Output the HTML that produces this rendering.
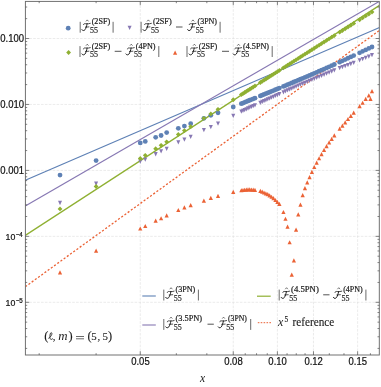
<!DOCTYPE html>
<html><head><meta charset="utf-8"><title>plot</title>
<style>html,body{margin:0;padding:0;background:#fff;}svg{display:block}</style></head>
<body><svg width="381" height="387" viewBox="0 0 381 387">
<rect width="381" height="387" fill="#ffffff"/><defs><mask id="mk" maskUnits="userSpaceOnUse" x="0" y="0" width="381" height="387"><rect width="381" height="387" fill="#fff"/></mask></defs><g mask="url(#mk)">
<line x1="140.25" y1="1.4" x2="140.25" y2="355.0" stroke="#dadada" stroke-width="0.55" stroke-dasharray="2.6 1.3"/>
<line x1="233.25" y1="1.4" x2="233.25" y2="355.0" stroke="#dadada" stroke-width="0.55" stroke-dasharray="2.6 1.3"/>
<line x1="277.40" y1="1.4" x2="277.40" y2="355.0" stroke="#dadada" stroke-width="0.55" stroke-dasharray="2.6 1.3"/>
<line x1="313.47" y1="1.4" x2="313.47" y2="355.0" stroke="#dadada" stroke-width="0.55" stroke-dasharray="2.6 1.3"/>
<line x1="357.63" y1="1.4" x2="357.63" y2="355.0" stroke="#dadada" stroke-width="0.55" stroke-dasharray="2.6 1.3"/>
<line x1="25.4" y1="38.50" x2="379.3" y2="38.50" stroke="#dadada" stroke-width="0.55" stroke-dasharray="2.6 1.3"/>
<line x1="25.4" y1="104.45" x2="379.3" y2="104.45" stroke="#dadada" stroke-width="0.55" stroke-dasharray="2.6 1.3"/>
<line x1="25.4" y1="170.40" x2="379.3" y2="170.40" stroke="#dadada" stroke-width="0.55" stroke-dasharray="2.6 1.3"/>
<line x1="25.4" y1="236.35" x2="379.3" y2="236.35" stroke="#dadada" stroke-width="0.55" stroke-dasharray="2.6 1.3"/>
<line x1="25.4" y1="302.30" x2="379.3" y2="302.30" stroke="#dadada" stroke-width="0.55" stroke-dasharray="2.6 1.3"/>
<clipPath id="c"><rect x="25.4" y="1.4" width="353.90000000000003" height="353.6"/></clipPath>
<g clip-path="url(#c)">
<line x1="25.3" y1="180.30" x2="379.5" y2="27.50" stroke="#5E81B5" stroke-width="1.2"/>
<line x1="25.3" y1="205.90" x2="379.5" y2="1.30" stroke="#8778B3" stroke-width="1.2"/>
<line x1="25.3" y1="235.40" x2="379.5" y2="5.40" stroke="#8FB032" stroke-width="1.3"/>
<line x1="25.3" y1="286.74" x2="379.5" y2="30.38" stroke="#EB6235" stroke-width="1.3" stroke-dasharray="2.1 1.85"/>
<circle cx="60.02" cy="175.05" r="2.4" fill="#5E81B5"/>
<circle cx="96.10" cy="160.60" r="2.4" fill="#5E81B5"/>
<circle cx="140.25" cy="142.97" r="2.4" fill="#5E81B5"/>
<circle cx="145.26" cy="141.44" r="2.4" fill="#5E81B5"/>
<circle cx="155.68" cy="137.35" r="2.4" fill="#5E81B5"/>
<circle cx="161.10" cy="135.49" r="2.4" fill="#5E81B5"/>
<circle cx="166.67" cy="132.59" r="2.4" fill="#5E81B5"/>
<circle cx="178.31" cy="128.29" r="2.4" fill="#5E81B5"/>
<circle cx="184.40" cy="126.07" r="2.4" fill="#5E81B5"/>
<circle cx="190.68" cy="123.68" r="2.4" fill="#5E81B5"/>
<circle cx="203.88" cy="118.28" r="2.4" fill="#5E81B5"/>
<circle cx="210.82" cy="115.29" r="2.4" fill="#5E81B5"/>
<circle cx="218.02" cy="112.85" r="2.4" fill="#5E81B5"/>
<circle cx="233.25" cy="107.02" r="2.4" fill="#5E81B5"/>
<circle cx="241.33" cy="103.72" r="2.4" fill="#5E81B5"/>
<circle cx="242.98" cy="103.04" r="2.4" fill="#5E81B5"/>
<circle cx="244.65" cy="102.36" r="2.4" fill="#5E81B5"/>
<circle cx="246.33" cy="101.67" r="2.4" fill="#5E81B5"/>
<circle cx="248.03" cy="100.97" r="2.4" fill="#5E81B5"/>
<circle cx="249.75" cy="100.27" r="2.4" fill="#5E81B5"/>
<circle cx="251.47" cy="99.57" r="2.4" fill="#5E81B5"/>
<circle cx="253.22" cy="98.85" r="2.4" fill="#5E81B5"/>
<circle cx="254.98" cy="98.13" r="2.4" fill="#5E81B5"/>
<circle cx="260.35" cy="95.93" r="2.4" fill="#5E81B5"/>
<circle cx="262.17" cy="95.19" r="2.4" fill="#5E81B5"/>
<circle cx="264.01" cy="94.44" r="2.4" fill="#5E81B5"/>
<circle cx="265.87" cy="93.68" r="2.4" fill="#5E81B5"/>
<circle cx="267.75" cy="92.91" r="2.4" fill="#5E81B5"/>
<circle cx="269.64" cy="92.13" r="2.4" fill="#5E81B5"/>
<circle cx="271.55" cy="91.35" r="2.4" fill="#5E81B5"/>
<circle cx="273.48" cy="90.56" r="2.4" fill="#5E81B5"/>
<circle cx="275.43" cy="89.76" r="2.4" fill="#5E81B5"/>
<circle cx="277.40" cy="88.96" r="2.4" fill="#5E81B5"/>
<circle cx="279.39" cy="88.12" r="2.4" fill="#5E81B5"/>
<circle cx="283.43" cy="86.42" r="2.4" fill="#5E81B5"/>
<circle cx="285.48" cy="85.56" r="2.4" fill="#5E81B5"/>
<circle cx="287.55" cy="84.69" r="2.4" fill="#5E81B5"/>
<circle cx="289.64" cy="83.81" r="2.4" fill="#5E81B5"/>
<circle cx="291.76" cy="82.92" r="2.4" fill="#5E81B5"/>
<circle cx="293.90" cy="82.02" r="2.4" fill="#5E81B5"/>
<circle cx="296.06" cy="81.11" r="2.4" fill="#5E81B5"/>
<circle cx="298.25" cy="80.19" r="2.4" fill="#5E81B5"/>
<circle cx="300.46" cy="79.26" r="2.4" fill="#5E81B5"/>
<circle cx="302.69" cy="78.32" r="2.4" fill="#5E81B5"/>
<circle cx="304.96" cy="77.37" r="2.4" fill="#5E81B5"/>
<circle cx="307.24" cy="76.41" r="2.4" fill="#5E81B5"/>
<circle cx="309.56" cy="75.42" r="2.4" fill="#5E81B5"/>
<circle cx="311.90" cy="74.39" r="2.4" fill="#5E81B5"/>
<circle cx="314.27" cy="73.35" r="2.4" fill="#5E81B5"/>
<circle cx="316.67" cy="72.29" r="2.4" fill="#5E81B5"/>
<circle cx="319.09" cy="71.22" r="2.4" fill="#5E81B5"/>
<circle cx="321.55" cy="70.13" r="2.4" fill="#5E81B5"/>
<circle cx="324.04" cy="69.04" r="2.4" fill="#5E81B5"/>
<circle cx="326.56" cy="67.92" r="2.4" fill="#5E81B5"/>
<circle cx="329.11" cy="66.80" r="2.4" fill="#5E81B5"/>
<circle cx="331.70" cy="65.66" r="2.4" fill="#5E81B5"/>
<circle cx="334.32" cy="64.50" r="2.4" fill="#5E81B5"/>
<circle cx="339.67" cy="62.15" r="2.4" fill="#5E81B5"/>
<circle cx="342.40" cy="60.87" r="2.4" fill="#5E81B5"/>
<circle cx="345.17" cy="59.58" r="2.4" fill="#5E81B5"/>
<circle cx="347.97" cy="58.26" r="2.4" fill="#5E81B5"/>
<circle cx="350.82" cy="56.92" r="2.4" fill="#5E81B5"/>
<circle cx="353.71" cy="55.57" r="2.4" fill="#5E81B5"/>
<circle cx="359.62" cy="52.79" r="2.4" fill="#5E81B5"/>
<circle cx="362.64" cy="51.37" r="2.4" fill="#5E81B5"/>
<circle cx="365.70" cy="49.93" r="2.4" fill="#5E81B5"/>
<circle cx="368.82" cy="48.47" r="2.4" fill="#5E81B5"/>
<circle cx="371.99" cy="46.98" r="2.4" fill="#5E81B5"/>
<path d="M58.02,200.86L62.02,200.86L60.02,205.16Z" fill="#8778B3"/>
<path d="M94.10,181.60L98.10,181.60L96.10,185.90Z" fill="#8778B3"/>
<path d="M138.25,159.39L142.25,159.39L140.25,163.69Z" fill="#8778B3"/>
<path d="M143.26,157.51L147.26,157.51L145.26,161.81Z" fill="#8778B3"/>
<path d="M153.68,152.11L157.68,152.11L155.68,156.41Z" fill="#8778B3"/>
<path d="M159.10,149.16L163.10,149.16L161.10,153.46Z" fill="#8778B3"/>
<path d="M164.67,146.64L168.67,146.64L166.67,150.94Z" fill="#8778B3"/>
<path d="M176.31,140.30L180.31,140.30L178.31,144.60Z" fill="#8778B3"/>
<path d="M182.40,137.48L186.40,137.48L184.40,141.78Z" fill="#8778B3"/>
<path d="M188.68,134.65L192.68,134.65L190.68,138.95Z" fill="#8778B3"/>
<path d="M201.88,127.93L205.88,127.93L203.88,132.23Z" fill="#8778B3"/>
<path d="M208.82,124.94L212.82,124.94L210.82,129.24Z" fill="#8778B3"/>
<path d="M216.02,121.49L220.02,121.49L218.02,125.79Z" fill="#8778B3"/>
<path d="M231.25,113.68L235.25,113.68L233.25,117.98Z" fill="#8778B3"/>
<path d="M239.33,109.44L243.33,109.44L241.33,113.74Z" fill="#8778B3"/>
<path d="M240.98,108.67L244.98,108.67L242.98,112.97Z" fill="#8778B3"/>
<path d="M242.65,107.91L246.65,107.91L244.65,112.21Z" fill="#8778B3"/>
<path d="M244.33,107.13L248.33,107.13L246.33,111.43Z" fill="#8778B3"/>
<path d="M246.03,106.35L250.03,106.35L248.03,110.65Z" fill="#8778B3"/>
<path d="M247.75,105.57L251.75,105.57L249.75,109.87Z" fill="#8778B3"/>
<path d="M249.47,104.78L253.47,104.78L251.47,109.08Z" fill="#8778B3"/>
<path d="M251.22,103.98L255.22,103.98L253.22,108.28Z" fill="#8778B3"/>
<path d="M252.98,103.17L256.98,103.17L254.98,107.47Z" fill="#8778B3"/>
<path d="M258.35,100.71L262.35,100.71L260.35,105.01Z" fill="#8778B3"/>
<path d="M260.17,99.87L264.17,99.87L262.17,104.17Z" fill="#8778B3"/>
<path d="M262.01,99.03L266.01,99.03L264.01,103.33Z" fill="#8778B3"/>
<path d="M263.87,98.18L267.87,98.18L265.87,102.48Z" fill="#8778B3"/>
<path d="M265.75,97.32L269.75,97.32L267.75,101.62Z" fill="#8778B3"/>
<path d="M267.64,96.45L271.64,96.45L269.64,100.75Z" fill="#8778B3"/>
<path d="M269.55,95.57L273.55,95.57L271.55,99.87Z" fill="#8778B3"/>
<path d="M271.48,94.69L275.48,94.69L273.48,98.99Z" fill="#8778B3"/>
<path d="M273.43,93.79L277.43,93.79L275.43,98.09Z" fill="#8778B3"/>
<path d="M275.40,92.89L279.40,92.89L277.40,97.19Z" fill="#8778B3"/>
<path d="M277.39,91.98L281.39,91.98L279.39,96.28Z" fill="#8778B3"/>
<path d="M281.43,90.14L285.43,90.14L283.43,94.44Z" fill="#8778B3"/>
<path d="M283.48,89.22L287.48,89.22L285.48,93.52Z" fill="#8778B3"/>
<path d="M285.55,88.30L289.55,88.30L287.55,92.60Z" fill="#8778B3"/>
<path d="M287.64,87.37L291.64,87.37L289.64,91.67Z" fill="#8778B3"/>
<path d="M289.76,86.42L293.76,86.42L291.76,90.72Z" fill="#8778B3"/>
<path d="M291.90,85.47L295.90,85.47L293.90,89.77Z" fill="#8778B3"/>
<path d="M294.06,84.51L298.06,84.51L296.06,88.81Z" fill="#8778B3"/>
<path d="M296.25,83.53L300.25,83.53L298.25,87.83Z" fill="#8778B3"/>
<path d="M298.46,82.56L302.46,82.56L300.46,86.86Z" fill="#8778B3"/>
<path d="M300.69,81.61L304.69,81.61L302.69,85.91Z" fill="#8778B3"/>
<path d="M302.96,80.66L306.96,80.66L304.96,84.96Z" fill="#8778B3"/>
<path d="M305.24,79.69L309.24,79.69L307.24,83.99Z" fill="#8778B3"/>
<path d="M307.56,78.71L311.56,78.71L309.56,83.01Z" fill="#8778B3"/>
<path d="M309.90,77.72L313.90,77.72L311.90,82.02Z" fill="#8778B3"/>
<path d="M312.27,76.72L316.27,76.72L314.27,81.02Z" fill="#8778B3"/>
<path d="M314.67,75.71L318.67,75.71L316.67,80.01Z" fill="#8778B3"/>
<path d="M317.09,74.68L321.09,74.68L319.09,78.98Z" fill="#8778B3"/>
<path d="M319.55,73.64L323.55,73.64L321.55,77.94Z" fill="#8778B3"/>
<path d="M322.04,72.59L326.04,72.59L324.04,76.89Z" fill="#8778B3"/>
<path d="M324.56,71.53L328.56,71.53L326.56,75.83Z" fill="#8778B3"/>
<path d="M327.11,70.45L331.11,70.45L329.11,74.75Z" fill="#8778B3"/>
<path d="M329.70,69.36L333.70,69.36L331.70,73.66Z" fill="#8778B3"/>
<path d="M332.32,68.25L336.32,68.25L334.32,72.55Z" fill="#8778B3"/>
<path d="M337.67,65.99L341.67,65.99L339.67,70.29Z" fill="#8778B3"/>
<path d="M340.40,64.96L344.40,64.96L342.40,69.26Z" fill="#8778B3"/>
<path d="M343.17,63.94L347.17,63.94L345.17,68.24Z" fill="#8778B3"/>
<path d="M345.97,62.91L349.97,62.91L347.97,67.21Z" fill="#8778B3"/>
<path d="M348.82,61.85L352.82,61.85L350.82,66.15Z" fill="#8778B3"/>
<path d="M351.71,60.75L355.71,60.75L353.71,65.05Z" fill="#8778B3"/>
<path d="M357.62,58.27L361.62,58.27L359.62,62.57Z" fill="#8778B3"/>
<path d="M360.64,57.00L364.64,57.00L362.64,61.30Z" fill="#8778B3"/>
<path d="M363.70,55.70L367.70,55.70L365.70,60.00Z" fill="#8778B3"/>
<path d="M366.82,54.39L370.82,54.39L368.82,58.69Z" fill="#8778B3"/>
<path d="M369.99,53.07L373.99,53.07L371.99,57.37Z" fill="#8778B3"/>
<path d="M57.62,208.95L60.02,206.55L62.42,208.95L60.02,211.35Z" fill="#8FB032"/>
<path d="M93.70,186.48L96.10,184.08L98.50,186.48L96.10,188.88Z" fill="#8FB032"/>
<path d="M137.85,158.52L140.25,156.12L142.65,158.52L140.25,160.92Z" fill="#8FB032"/>
<path d="M142.86,155.35L145.26,152.95L147.66,155.35L145.26,157.75Z" fill="#8FB032"/>
<path d="M153.28,148.76L155.68,146.36L158.08,148.76L155.68,151.16Z" fill="#8FB032"/>
<path d="M158.70,145.34L161.10,142.94L163.50,145.34L161.10,147.74Z" fill="#8FB032"/>
<path d="M164.27,141.81L166.67,139.41L169.07,141.81L166.67,144.21Z" fill="#8FB032"/>
<path d="M175.91,134.46L178.31,132.06L180.71,134.46L178.31,136.86Z" fill="#8FB032"/>
<path d="M182.00,130.61L184.40,128.21L186.80,130.61L184.40,133.01Z" fill="#8FB032"/>
<path d="M188.28,126.64L190.68,124.24L193.08,126.64L190.68,129.04Z" fill="#8FB032"/>
<path d="M201.48,118.30L203.88,115.90L206.28,118.30L203.88,120.70Z" fill="#8FB032"/>
<path d="M208.42,113.91L210.82,111.51L213.22,113.91L210.82,116.31Z" fill="#8FB032"/>
<path d="M215.62,109.36L218.02,106.96L220.42,109.36L218.02,111.76Z" fill="#8FB032"/>
<path d="M230.85,99.73L233.25,97.33L235.65,99.73L233.25,102.13Z" fill="#8FB032"/>
<path d="M238.93,94.60L241.33,92.20L243.73,94.60L241.33,97.00Z" fill="#8FB032"/>
<path d="M240.58,93.55L242.98,91.15L245.38,93.55L242.98,95.95Z" fill="#8FB032"/>
<path d="M242.25,92.49L244.65,90.09L247.05,92.49L244.65,94.89Z" fill="#8FB032"/>
<path d="M243.93,91.42L246.33,89.02L248.73,91.42L246.33,93.82Z" fill="#8FB032"/>
<path d="M245.63,90.34L248.03,87.94L250.43,90.34L248.03,92.74Z" fill="#8FB032"/>
<path d="M247.35,89.25L249.75,86.85L252.15,89.25L249.75,91.65Z" fill="#8FB032"/>
<path d="M249.07,88.15L251.47,85.75L253.87,88.15L251.47,90.55Z" fill="#8FB032"/>
<path d="M250.82,87.04L253.22,84.64L255.62,87.04L253.22,89.44Z" fill="#8FB032"/>
<path d="M252.58,85.92L254.98,83.52L257.38,85.92L254.98,88.32Z" fill="#8FB032"/>
<path d="M257.95,82.51L260.35,80.11L262.75,82.51L260.35,84.91Z" fill="#8FB032"/>
<path d="M259.77,81.35L262.17,78.95L264.57,81.35L262.17,83.75Z" fill="#8FB032"/>
<path d="M261.61,80.18L264.01,77.78L266.41,80.18L264.01,82.58Z" fill="#8FB032"/>
<path d="M263.47,79.00L265.87,76.60L268.27,79.00L265.87,81.40Z" fill="#8FB032"/>
<path d="M265.35,77.81L267.75,75.41L270.15,77.81L267.75,80.21Z" fill="#8FB032"/>
<path d="M267.24,76.60L269.64,74.20L272.04,76.60L269.64,79.00Z" fill="#8FB032"/>
<path d="M269.15,75.39L271.55,72.99L273.95,75.39L271.55,77.79Z" fill="#8FB032"/>
<path d="M271.08,74.16L273.48,71.76L275.88,74.16L273.48,76.56Z" fill="#8FB032"/>
<path d="M273.03,72.92L275.43,70.52L277.83,72.92L275.43,75.32Z" fill="#8FB032"/>
<path d="M275.00,71.67L277.40,69.27L279.80,71.67L277.40,74.07Z" fill="#8FB032"/>
<path d="M276.99,70.41L279.39,68.01L281.79,70.41L279.39,72.81Z" fill="#8FB032"/>
<path d="M281.03,67.84L283.43,65.44L285.83,67.84L283.43,70.24Z" fill="#8FB032"/>
<path d="M283.08,66.54L285.48,64.14L287.88,66.54L285.48,68.94Z" fill="#8FB032"/>
<path d="M285.15,65.22L287.55,62.82L289.95,65.22L287.55,67.62Z" fill="#8FB032"/>
<path d="M287.24,63.89L289.64,61.49L292.04,63.89L289.64,66.29Z" fill="#8FB032"/>
<path d="M289.36,62.54L291.76,60.14L294.16,62.54L291.76,64.94Z" fill="#8FB032"/>
<path d="M291.50,61.18L293.90,58.78L296.30,61.18L293.90,63.58Z" fill="#8FB032"/>
<path d="M293.66,59.81L296.06,57.41L298.46,59.81L296.06,62.21Z" fill="#8FB032"/>
<path d="M295.85,58.42L298.25,56.02L300.65,58.42L298.25,60.82Z" fill="#8FB032"/>
<path d="M298.06,57.01L300.46,54.61L302.86,57.01L300.46,59.41Z" fill="#8FB032"/>
<path d="M300.29,55.59L302.69,53.19L305.09,55.59L302.69,57.99Z" fill="#8FB032"/>
<path d="M302.56,54.15L304.96,51.75L307.36,54.15L304.96,56.55Z" fill="#8FB032"/>
<path d="M304.84,52.70L307.24,50.30L309.64,52.70L307.24,55.10Z" fill="#8FB032"/>
<path d="M307.16,51.23L309.56,48.83L311.96,51.23L309.56,53.63Z" fill="#8FB032"/>
<path d="M309.50,49.74L311.90,47.34L314.30,49.74L311.90,52.14Z" fill="#8FB032"/>
<path d="M311.87,48.24L314.27,45.84L316.67,48.24L314.27,50.64Z" fill="#8FB032"/>
<path d="M314.27,46.71L316.67,44.31L319.07,46.71L316.67,49.11Z" fill="#8FB032"/>
<path d="M316.69,45.17L319.09,42.77L321.49,45.17L319.09,47.57Z" fill="#8FB032"/>
<path d="M319.15,43.61L321.55,41.21L323.95,43.61L321.55,46.01Z" fill="#8FB032"/>
<path d="M321.64,42.02L324.04,39.62L326.44,42.02L324.04,44.42Z" fill="#8FB032"/>
<path d="M324.16,40.42L326.56,38.02L328.96,40.42L326.56,42.82Z" fill="#8FB032"/>
<path d="M326.71,38.80L329.11,36.40L331.51,38.80L329.11,41.20Z" fill="#8FB032"/>
<path d="M329.30,37.16L331.70,34.76L334.10,37.16L331.70,39.56Z" fill="#8FB032"/>
<path d="M331.92,35.53L334.32,33.13L336.72,35.53L334.32,37.93Z" fill="#8FB032"/>
<path d="M337.27,32.19L339.67,29.79L342.07,32.19L339.67,34.59Z" fill="#8FB032"/>
<path d="M340.00,30.49L342.40,28.09L344.80,30.49L342.40,32.89Z" fill="#8FB032"/>
<path d="M342.77,28.76L345.17,26.36L347.57,28.76L345.17,31.16Z" fill="#8FB032"/>
<path d="M345.57,27.01L347.97,24.61L350.37,27.01L347.97,29.41Z" fill="#8FB032"/>
<path d="M348.42,25.23L350.82,22.83L353.22,25.23L350.82,27.63Z" fill="#8FB032"/>
<path d="M351.31,23.43L353.71,21.03L356.11,23.43L353.71,25.83Z" fill="#8FB032"/>
<path d="M357.22,19.74L359.62,17.34L362.02,19.74L359.62,22.14Z" fill="#8FB032"/>
<path d="M360.24,17.86L362.64,15.46L365.04,17.86L362.64,20.26Z" fill="#8FB032"/>
<path d="M363.30,15.94L365.70,13.54L368.10,15.94L365.70,18.34Z" fill="#8FB032"/>
<path d="M366.42,14.00L368.82,11.60L371.22,14.00L368.82,16.40Z" fill="#8FB032"/>
<path d="M369.59,12.02L371.99,9.62L374.39,12.02L371.99,14.42Z" fill="#8FB032"/>
<path d="M57.92,274.46L62.12,274.46L60.02,270.26Z" fill="#EB6235"/>
<path d="M94.00,252.80L98.20,252.80L96.10,248.60Z" fill="#EB6235"/>
<path d="M138.15,230.58L142.35,230.58L140.25,226.38Z" fill="#EB6235"/>
<path d="M143.16,228.11L147.36,228.11L145.26,223.91Z" fill="#EB6235"/>
<path d="M153.58,222.68L157.78,222.68L155.68,218.48Z" fill="#EB6235"/>
<path d="M159.00,220.35L163.20,220.35L161.10,216.15Z" fill="#EB6235"/>
<path d="M164.57,217.57L168.77,217.57L166.67,213.37Z" fill="#EB6235"/>
<path d="M176.21,212.09L180.41,212.09L178.31,207.89Z" fill="#EB6235"/>
<path d="M182.30,209.56L186.50,209.56L184.40,205.36Z" fill="#EB6235"/>
<path d="M188.58,207.24L192.78,207.24L190.68,203.04Z" fill="#EB6235"/>
<path d="M201.78,202.63L205.98,202.63L203.88,198.43Z" fill="#EB6235"/>
<path d="M208.72,199.94L212.92,199.94L210.82,195.74Z" fill="#EB6235"/>
<path d="M215.92,197.89L220.12,197.89L218.02,193.69Z" fill="#EB6235"/>
<path d="M231.15,193.89L235.35,193.89L233.25,189.69Z" fill="#EB6235"/>
<path d="M239.23,192.33L243.43,192.33L241.33,188.13Z" fill="#EB6235"/>
<path d="M240.88,192.09L245.08,192.09L242.98,187.89Z" fill="#EB6235"/>
<path d="M242.55,191.86L246.75,191.86L244.65,187.66Z" fill="#EB6235"/>
<path d="M244.23,191.63L248.43,191.63L246.33,187.43Z" fill="#EB6235"/>
<path d="M245.93,191.40L250.13,191.40L248.03,187.20Z" fill="#EB6235"/>
<path d="M247.65,191.54L251.85,191.54L249.75,187.34Z" fill="#EB6235"/>
<path d="M249.37,191.67L253.57,191.67L251.47,187.47Z" fill="#EB6235"/>
<path d="M251.12,191.81L255.32,191.81L253.22,187.61Z" fill="#EB6235"/>
<path d="M252.88,192.01L257.08,192.01L254.98,187.81Z" fill="#EB6235"/>
<path d="M258.25,193.02L262.45,193.02L260.35,188.82Z" fill="#EB6235"/>
<path d="M260.07,193.80L264.27,193.80L262.17,189.60Z" fill="#EB6235"/>
<path d="M261.91,194.59L266.11,194.59L264.01,190.39Z" fill="#EB6235"/>
<path d="M263.77,195.39L267.97,195.39L265.87,191.19Z" fill="#EB6235"/>
<path d="M265.65,196.30L269.85,196.30L267.75,192.10Z" fill="#EB6235"/>
<path d="M267.54,197.57L271.74,197.57L269.64,193.37Z" fill="#EB6235"/>
<path d="M269.45,198.86L273.65,198.86L271.55,194.66Z" fill="#EB6235"/>
<path d="M271.38,200.32L275.58,200.32L273.48,196.12Z" fill="#EB6235"/>
<path d="M273.33,202.11L277.53,202.11L275.43,197.91Z" fill="#EB6235"/>
<path d="M275.30,203.97L279.50,203.97L277.40,199.77Z" fill="#EB6235"/>
<path d="M277.29,205.90L281.49,205.90L279.39,201.70Z" fill="#EB6235"/>
<path d="M281.33,214.09L285.53,214.09L283.43,209.89Z" fill="#EB6235"/>
<path d="M283.38,220.85L287.58,220.85L285.48,216.65Z" fill="#EB6235"/>
<path d="M285.45,228.64L289.65,228.64L287.55,224.44Z" fill="#EB6235"/>
<path d="M287.54,244.37L291.74,244.37L289.64,240.17Z" fill="#EB6235"/>
<path d="M289.66,276.71L293.86,276.71L291.76,272.51Z" fill="#EB6235"/>
<path d="M291.80,262.51L296.00,262.51L293.90,258.31Z" fill="#EB6235"/>
<path d="M293.96,231.68L298.16,231.68L296.06,227.48Z" fill="#EB6235"/>
<path d="M296.15,216.54L300.35,216.54L298.25,212.34Z" fill="#EB6235"/>
<path d="M298.36,206.64L302.56,206.64L300.46,202.44Z" fill="#EB6235"/>
<path d="M300.59,197.23L304.79,197.23L302.69,193.03Z" fill="#EB6235"/>
<path d="M302.86,190.25L307.06,190.25L304.96,186.05Z" fill="#EB6235"/>
<path d="M305.14,184.55L309.34,184.55L307.24,180.35Z" fill="#EB6235"/>
<path d="M307.46,179.27L311.66,179.27L309.56,175.07Z" fill="#EB6235"/>
<path d="M309.80,173.90L314.00,173.90L311.90,169.70Z" fill="#EB6235"/>
<path d="M312.17,169.08L316.37,169.08L314.27,164.88Z" fill="#EB6235"/>
<path d="M314.57,164.70L318.77,164.70L316.67,160.50Z" fill="#EB6235"/>
<path d="M316.99,160.37L321.19,160.37L319.09,156.17Z" fill="#EB6235"/>
<path d="M319.45,156.20L323.65,156.20L321.55,152.00Z" fill="#EB6235"/>
<path d="M321.94,152.02L326.14,152.02L324.04,147.82Z" fill="#EB6235"/>
<path d="M324.46,148.14L328.66,148.14L326.56,143.94Z" fill="#EB6235"/>
<path d="M327.01,144.53L331.21,144.53L329.11,140.33Z" fill="#EB6235"/>
<path d="M329.60,140.94L333.80,140.94L331.70,136.74Z" fill="#EB6235"/>
<path d="M332.22,137.38L336.42,137.38L334.32,133.18Z" fill="#EB6235"/>
<path d="M337.57,130.79L341.77,130.79L339.67,126.59Z" fill="#EB6235"/>
<path d="M340.30,127.75L344.50,127.75L342.40,123.55Z" fill="#EB6235"/>
<path d="M343.07,124.49L347.27,124.49L345.17,120.29Z" fill="#EB6235"/>
<path d="M345.87,121.09L350.07,121.09L347.97,116.89Z" fill="#EB6235"/>
<path d="M348.72,118.00L352.92,118.00L350.82,113.80Z" fill="#EB6235"/>
<path d="M351.61,114.65L355.81,114.65L353.71,110.45Z" fill="#EB6235"/>
<path d="M357.52,108.26L361.72,108.26L359.62,104.06Z" fill="#EB6235"/>
<path d="M360.54,104.83L364.74,104.83L362.64,100.63Z" fill="#EB6235"/>
<path d="M363.60,101.06L367.80,101.06L365.70,96.86Z" fill="#EB6235"/>
<path d="M366.72,97.38L370.92,97.38L368.82,93.18Z" fill="#EB6235"/>
<path d="M369.89,93.25L374.09,93.25L371.99,89.05Z" fill="#EB6235"/>
<path d="M368.40,101.00L372.60,101.00L370.50,96.80Z" fill="#EB6235"/>
</g>
<rect x="25.4" y="1.4" width="353.90000000000003" height="353.6" fill="none" stroke="#6a6a6a" stroke-width="0.95"/>
<line x1="25.4" y1="348.40" x2="27.2" y2="348.40" stroke="#505050" stroke-width="0.7"/>
<line x1="379.3" y1="348.40" x2="377.5" y2="348.40" stroke="#505050" stroke-width="0.7"/>
<line x1="25.4" y1="336.78" x2="27.2" y2="336.78" stroke="#505050" stroke-width="0.7"/>
<line x1="379.3" y1="336.78" x2="377.5" y2="336.78" stroke="#505050" stroke-width="0.7"/>
<line x1="25.4" y1="328.54" x2="27.2" y2="328.54" stroke="#505050" stroke-width="0.7"/>
<line x1="379.3" y1="328.54" x2="377.5" y2="328.54" stroke="#505050" stroke-width="0.7"/>
<line x1="25.4" y1="322.15" x2="27.2" y2="322.15" stroke="#505050" stroke-width="0.7"/>
<line x1="379.3" y1="322.15" x2="377.5" y2="322.15" stroke="#505050" stroke-width="0.7"/>
<line x1="25.4" y1="316.93" x2="27.2" y2="316.93" stroke="#505050" stroke-width="0.7"/>
<line x1="379.3" y1="316.93" x2="377.5" y2="316.93" stroke="#505050" stroke-width="0.7"/>
<line x1="25.4" y1="312.52" x2="27.2" y2="312.52" stroke="#505050" stroke-width="0.7"/>
<line x1="379.3" y1="312.52" x2="377.5" y2="312.52" stroke="#505050" stroke-width="0.7"/>
<line x1="25.4" y1="308.69" x2="27.2" y2="308.69" stroke="#505050" stroke-width="0.7"/>
<line x1="379.3" y1="308.69" x2="377.5" y2="308.69" stroke="#505050" stroke-width="0.7"/>
<line x1="25.4" y1="305.32" x2="27.2" y2="305.32" stroke="#505050" stroke-width="0.7"/>
<line x1="379.3" y1="305.32" x2="377.5" y2="305.32" stroke="#505050" stroke-width="0.7"/>
<line x1="25.4" y1="302.30" x2="29.2" y2="302.30" stroke="#505050" stroke-width="0.7"/>
<line x1="379.3" y1="302.30" x2="375.5" y2="302.30" stroke="#505050" stroke-width="0.7"/>
<line x1="25.4" y1="282.45" x2="27.2" y2="282.45" stroke="#505050" stroke-width="0.7"/>
<line x1="379.3" y1="282.45" x2="377.5" y2="282.45" stroke="#505050" stroke-width="0.7"/>
<line x1="25.4" y1="270.83" x2="27.2" y2="270.83" stroke="#505050" stroke-width="0.7"/>
<line x1="379.3" y1="270.83" x2="377.5" y2="270.83" stroke="#505050" stroke-width="0.7"/>
<line x1="25.4" y1="262.59" x2="27.2" y2="262.59" stroke="#505050" stroke-width="0.7"/>
<line x1="379.3" y1="262.59" x2="377.5" y2="262.59" stroke="#505050" stroke-width="0.7"/>
<line x1="25.4" y1="256.20" x2="27.2" y2="256.20" stroke="#505050" stroke-width="0.7"/>
<line x1="379.3" y1="256.20" x2="377.5" y2="256.20" stroke="#505050" stroke-width="0.7"/>
<line x1="25.4" y1="250.98" x2="27.2" y2="250.98" stroke="#505050" stroke-width="0.7"/>
<line x1="379.3" y1="250.98" x2="377.5" y2="250.98" stroke="#505050" stroke-width="0.7"/>
<line x1="25.4" y1="246.57" x2="27.2" y2="246.57" stroke="#505050" stroke-width="0.7"/>
<line x1="379.3" y1="246.57" x2="377.5" y2="246.57" stroke="#505050" stroke-width="0.7"/>
<line x1="25.4" y1="242.74" x2="27.2" y2="242.74" stroke="#505050" stroke-width="0.7"/>
<line x1="379.3" y1="242.74" x2="377.5" y2="242.74" stroke="#505050" stroke-width="0.7"/>
<line x1="25.4" y1="239.37" x2="27.2" y2="239.37" stroke="#505050" stroke-width="0.7"/>
<line x1="379.3" y1="239.37" x2="377.5" y2="239.37" stroke="#505050" stroke-width="0.7"/>
<line x1="25.4" y1="236.35" x2="29.2" y2="236.35" stroke="#505050" stroke-width="0.7"/>
<line x1="379.3" y1="236.35" x2="375.5" y2="236.35" stroke="#505050" stroke-width="0.7"/>
<line x1="25.4" y1="216.50" x2="27.2" y2="216.50" stroke="#505050" stroke-width="0.7"/>
<line x1="379.3" y1="216.50" x2="377.5" y2="216.50" stroke="#505050" stroke-width="0.7"/>
<line x1="25.4" y1="204.88" x2="27.2" y2="204.88" stroke="#505050" stroke-width="0.7"/>
<line x1="379.3" y1="204.88" x2="377.5" y2="204.88" stroke="#505050" stroke-width="0.7"/>
<line x1="25.4" y1="196.64" x2="27.2" y2="196.64" stroke="#505050" stroke-width="0.7"/>
<line x1="379.3" y1="196.64" x2="377.5" y2="196.64" stroke="#505050" stroke-width="0.7"/>
<line x1="25.4" y1="190.25" x2="27.2" y2="190.25" stroke="#505050" stroke-width="0.7"/>
<line x1="379.3" y1="190.25" x2="377.5" y2="190.25" stroke="#505050" stroke-width="0.7"/>
<line x1="25.4" y1="185.03" x2="27.2" y2="185.03" stroke="#505050" stroke-width="0.7"/>
<line x1="379.3" y1="185.03" x2="377.5" y2="185.03" stroke="#505050" stroke-width="0.7"/>
<line x1="25.4" y1="180.62" x2="27.2" y2="180.62" stroke="#505050" stroke-width="0.7"/>
<line x1="379.3" y1="180.62" x2="377.5" y2="180.62" stroke="#505050" stroke-width="0.7"/>
<line x1="25.4" y1="176.79" x2="27.2" y2="176.79" stroke="#505050" stroke-width="0.7"/>
<line x1="379.3" y1="176.79" x2="377.5" y2="176.79" stroke="#505050" stroke-width="0.7"/>
<line x1="25.4" y1="173.42" x2="27.2" y2="173.42" stroke="#505050" stroke-width="0.7"/>
<line x1="379.3" y1="173.42" x2="377.5" y2="173.42" stroke="#505050" stroke-width="0.7"/>
<line x1="25.4" y1="170.40" x2="29.2" y2="170.40" stroke="#505050" stroke-width="0.7"/>
<line x1="379.3" y1="170.40" x2="375.5" y2="170.40" stroke="#505050" stroke-width="0.7"/>
<line x1="25.4" y1="150.55" x2="27.2" y2="150.55" stroke="#505050" stroke-width="0.7"/>
<line x1="379.3" y1="150.55" x2="377.5" y2="150.55" stroke="#505050" stroke-width="0.7"/>
<line x1="25.4" y1="138.93" x2="27.2" y2="138.93" stroke="#505050" stroke-width="0.7"/>
<line x1="379.3" y1="138.93" x2="377.5" y2="138.93" stroke="#505050" stroke-width="0.7"/>
<line x1="25.4" y1="130.69" x2="27.2" y2="130.69" stroke="#505050" stroke-width="0.7"/>
<line x1="379.3" y1="130.69" x2="377.5" y2="130.69" stroke="#505050" stroke-width="0.7"/>
<line x1="25.4" y1="124.30" x2="27.2" y2="124.30" stroke="#505050" stroke-width="0.7"/>
<line x1="379.3" y1="124.30" x2="377.5" y2="124.30" stroke="#505050" stroke-width="0.7"/>
<line x1="25.4" y1="119.08" x2="27.2" y2="119.08" stroke="#505050" stroke-width="0.7"/>
<line x1="379.3" y1="119.08" x2="377.5" y2="119.08" stroke="#505050" stroke-width="0.7"/>
<line x1="25.4" y1="114.67" x2="27.2" y2="114.67" stroke="#505050" stroke-width="0.7"/>
<line x1="379.3" y1="114.67" x2="377.5" y2="114.67" stroke="#505050" stroke-width="0.7"/>
<line x1="25.4" y1="110.84" x2="27.2" y2="110.84" stroke="#505050" stroke-width="0.7"/>
<line x1="379.3" y1="110.84" x2="377.5" y2="110.84" stroke="#505050" stroke-width="0.7"/>
<line x1="25.4" y1="107.47" x2="27.2" y2="107.47" stroke="#505050" stroke-width="0.7"/>
<line x1="379.3" y1="107.47" x2="377.5" y2="107.47" stroke="#505050" stroke-width="0.7"/>
<line x1="25.4" y1="104.45" x2="29.2" y2="104.45" stroke="#505050" stroke-width="0.7"/>
<line x1="379.3" y1="104.45" x2="375.5" y2="104.45" stroke="#505050" stroke-width="0.7"/>
<line x1="25.4" y1="84.60" x2="27.2" y2="84.60" stroke="#505050" stroke-width="0.7"/>
<line x1="379.3" y1="84.60" x2="377.5" y2="84.60" stroke="#505050" stroke-width="0.7"/>
<line x1="25.4" y1="72.98" x2="27.2" y2="72.98" stroke="#505050" stroke-width="0.7"/>
<line x1="379.3" y1="72.98" x2="377.5" y2="72.98" stroke="#505050" stroke-width="0.7"/>
<line x1="25.4" y1="64.74" x2="27.2" y2="64.74" stroke="#505050" stroke-width="0.7"/>
<line x1="379.3" y1="64.74" x2="377.5" y2="64.74" stroke="#505050" stroke-width="0.7"/>
<line x1="25.4" y1="58.35" x2="27.2" y2="58.35" stroke="#505050" stroke-width="0.7"/>
<line x1="379.3" y1="58.35" x2="377.5" y2="58.35" stroke="#505050" stroke-width="0.7"/>
<line x1="25.4" y1="53.13" x2="27.2" y2="53.13" stroke="#505050" stroke-width="0.7"/>
<line x1="379.3" y1="53.13" x2="377.5" y2="53.13" stroke="#505050" stroke-width="0.7"/>
<line x1="25.4" y1="48.72" x2="27.2" y2="48.72" stroke="#505050" stroke-width="0.7"/>
<line x1="379.3" y1="48.72" x2="377.5" y2="48.72" stroke="#505050" stroke-width="0.7"/>
<line x1="25.4" y1="44.89" x2="27.2" y2="44.89" stroke="#505050" stroke-width="0.7"/>
<line x1="379.3" y1="44.89" x2="377.5" y2="44.89" stroke="#505050" stroke-width="0.7"/>
<line x1="25.4" y1="41.52" x2="27.2" y2="41.52" stroke="#505050" stroke-width="0.7"/>
<line x1="379.3" y1="41.52" x2="377.5" y2="41.52" stroke="#505050" stroke-width="0.7"/>
<line x1="25.4" y1="38.50" x2="29.2" y2="38.50" stroke="#505050" stroke-width="0.7"/>
<line x1="379.3" y1="38.50" x2="375.5" y2="38.50" stroke="#505050" stroke-width="0.7"/>
<line x1="25.4" y1="18.65" x2="27.2" y2="18.65" stroke="#505050" stroke-width="0.7"/>
<line x1="379.3" y1="18.65" x2="377.5" y2="18.65" stroke="#505050" stroke-width="0.7"/>
<line x1="25.4" y1="7.03" x2="27.2" y2="7.03" stroke="#505050" stroke-width="0.7"/>
<line x1="379.3" y1="7.03" x2="377.5" y2="7.03" stroke="#505050" stroke-width="0.7"/>
<line x1="140.25" y1="355.0" x2="140.25" y2="351.2" stroke="#505050" stroke-width="0.7"/>
<line x1="140.25" y1="1.4" x2="140.25" y2="5.199999999999999" stroke="#505050" stroke-width="0.7"/>
<line x1="233.25" y1="355.0" x2="233.25" y2="351.2" stroke="#505050" stroke-width="0.7"/>
<line x1="233.25" y1="1.4" x2="233.25" y2="5.199999999999999" stroke="#505050" stroke-width="0.7"/>
<line x1="277.40" y1="355.0" x2="277.40" y2="351.2" stroke="#505050" stroke-width="0.7"/>
<line x1="277.40" y1="1.4" x2="277.40" y2="5.199999999999999" stroke="#505050" stroke-width="0.7"/>
<line x1="313.47" y1="355.0" x2="313.47" y2="351.2" stroke="#505050" stroke-width="0.7"/>
<line x1="313.47" y1="1.4" x2="313.47" y2="5.199999999999999" stroke="#505050" stroke-width="0.7"/>
<line x1="357.63" y1="355.0" x2="357.63" y2="351.2" stroke="#505050" stroke-width="0.7"/>
<line x1="357.63" y1="1.4" x2="357.63" y2="5.199999999999999" stroke="#505050" stroke-width="0.7"/>
<line x1="39.18" y1="355.0" x2="39.18" y2="353.2" stroke="#505050" stroke-width="0.7"/>
<line x1="39.18" y1="1.4" x2="39.18" y2="3.2" stroke="#505050" stroke-width="0.7"/>
<line x1="96.10" y1="355.0" x2="96.10" y2="353.2" stroke="#505050" stroke-width="0.7"/>
<line x1="96.10" y1="1.4" x2="96.10" y2="3.2" stroke="#505050" stroke-width="0.7"/>
<line x1="176.33" y1="355.0" x2="176.33" y2="353.2" stroke="#505050" stroke-width="0.7"/>
<line x1="176.33" y1="1.4" x2="176.33" y2="3.2" stroke="#505050" stroke-width="0.7"/>
<line x1="206.83" y1="355.0" x2="206.83" y2="353.2" stroke="#505050" stroke-width="0.7"/>
<line x1="206.83" y1="1.4" x2="206.83" y2="3.2" stroke="#505050" stroke-width="0.7"/>
<line x1="245.24" y1="355.0" x2="245.24" y2="353.2" stroke="#505050" stroke-width="0.7"/>
<line x1="245.24" y1="1.4" x2="245.24" y2="3.2" stroke="#505050" stroke-width="0.7"/>
<line x1="256.55" y1="355.0" x2="256.55" y2="353.2" stroke="#505050" stroke-width="0.7"/>
<line x1="256.55" y1="1.4" x2="256.55" y2="3.2" stroke="#505050" stroke-width="0.7"/>
<line x1="267.25" y1="355.0" x2="267.25" y2="353.2" stroke="#505050" stroke-width="0.7"/>
<line x1="267.25" y1="1.4" x2="267.25" y2="3.2" stroke="#505050" stroke-width="0.7"/>
<line x1="287.05" y1="355.0" x2="287.05" y2="353.2" stroke="#505050" stroke-width="0.7"/>
<line x1="287.05" y1="1.4" x2="287.05" y2="3.2" stroke="#505050" stroke-width="0.7"/>
<line x1="296.26" y1="355.0" x2="296.26" y2="353.2" stroke="#505050" stroke-width="0.7"/>
<line x1="296.26" y1="1.4" x2="296.26" y2="3.2" stroke="#505050" stroke-width="0.7"/>
<line x1="305.05" y1="355.0" x2="305.05" y2="353.2" stroke="#505050" stroke-width="0.7"/>
<line x1="305.05" y1="1.4" x2="305.05" y2="3.2" stroke="#505050" stroke-width="0.7"/>
<line x1="329.31" y1="355.0" x2="329.31" y2="353.2" stroke="#505050" stroke-width="0.7"/>
<line x1="329.31" y1="1.4" x2="329.31" y2="3.2" stroke="#505050" stroke-width="0.7"/>
<line x1="343.98" y1="355.0" x2="343.98" y2="353.2" stroke="#505050" stroke-width="0.7"/>
<line x1="343.98" y1="1.4" x2="343.98" y2="3.2" stroke="#505050" stroke-width="0.7"/>
<line x1="370.40" y1="355.0" x2="370.40" y2="353.2" stroke="#505050" stroke-width="0.7"/>
<line x1="370.40" y1="1.4" x2="370.40" y2="3.2" stroke="#505050" stroke-width="0.7"/>
<text transform="translate(24.00,42.00) scale(1,1.12)" font-family="Liberation Sans, sans-serif" font-size="9.5" text-anchor="end" fill="#111" stroke="#111" stroke-width="0.2">0.100</text>
<text transform="translate(24.00,107.95) scale(1,1.12)" font-family="Liberation Sans, sans-serif" font-size="9.5" text-anchor="end" fill="#111" stroke="#111" stroke-width="0.2">0.010</text>
<text transform="translate(24.00,173.90) scale(1,1.12)" font-family="Liberation Sans, sans-serif" font-size="9.5" text-anchor="end" fill="#111" stroke="#111" stroke-width="0.2">0.001</text>
<text transform="translate(15.40,239.85) scale(1,1.12)" font-family="Liberation Sans, sans-serif" font-size="8.8" text-anchor="end" fill="#111" stroke="#111" stroke-width="0.2">10</text>
<text transform="translate(15.70,236.65) scale(1,1.12)" font-family="Liberation Sans, sans-serif" font-size="6.2" text-anchor="start" fill="#111" stroke="#111" stroke-width="0.2">−4</text>
<text transform="translate(15.40,305.80) scale(1,1.12)" font-family="Liberation Sans, sans-serif" font-size="8.8" text-anchor="end" fill="#111" stroke="#111" stroke-width="0.2">10</text>
<text transform="translate(15.70,302.60) scale(1,1.12)" font-family="Liberation Sans, sans-serif" font-size="6.2" text-anchor="start" fill="#111" stroke="#111" stroke-width="0.2">−5</text>
<text transform="translate(140.45,364.90) scale(1,1.12)" font-family="Liberation Sans, sans-serif" font-size="9.5" text-anchor="middle" fill="#111" stroke="#111" stroke-width="0.2">0.05</text>
<text transform="translate(233.45,364.90) scale(1,1.12)" font-family="Liberation Sans, sans-serif" font-size="9.5" text-anchor="middle" fill="#111" stroke="#111" stroke-width="0.2">0.08</text>
<text transform="translate(277.60,364.90) scale(1,1.12)" font-family="Liberation Sans, sans-serif" font-size="9.5" text-anchor="middle" fill="#111" stroke="#111" stroke-width="0.2">0.10</text>
<text transform="translate(313.67,364.90) scale(1,1.12)" font-family="Liberation Sans, sans-serif" font-size="9.5" text-anchor="middle" fill="#111" stroke="#111" stroke-width="0.2">0.12</text>
<text transform="translate(357.83,364.90) scale(1,1.12)" font-family="Liberation Sans, sans-serif" font-size="9.5" text-anchor="middle" fill="#111" stroke="#111" stroke-width="0.2">0.15</text>
<text x="199.9" y="382.1" font-family="Liberation Serif, serif" font-size="11.5" font-style="italic" fill="#1a1a1a">x</text>
<circle cx="68.20" cy="28.20" r="2.4" fill="#5E81B5"/>
<line x1="80.20" y1="21.80" x2="80.20" y2="32.70" stroke="#1a1a1a" stroke-width="0.65"/>
<g transform="translate(81.70,23.20)" fill="none" stroke="#1a1a1a" stroke-width="0.8" stroke-linecap="round" stroke-linejoin="round"><path d="M1.8,1.4C1.9,0.4 2.8,0.4 4,0.5C6,0.7 7.6,0.6 8.6,0.2"/><path d="M5.4,0.6C4.9,3 4.3,5.1 3.3,6.5C2.6,7.5 0.9,7.9 0.2,6.5" stroke-width="1.0"/><path d="M3.7,3.95L7.2,3.7" stroke-width="0.75"/><path d="M4.5,-2.1L5.55,-3.3L6.6,-2.1" stroke-width="0.6"/></g>
<text x="91.70" y="24.20" font-family="Liberation Serif, serif" font-size="7.4" textLength="18.40" lengthAdjust="spacingAndGlyphs" fill="#1a1a1a" stroke="#1a1a1a" stroke-width="0.18">(2SF)</text>
<text x="90.00" y="32.80" font-family="Liberation Serif, serif" font-size="7.5" textLength="8.0" lengthAdjust="spacingAndGlyphs" fill="#1a1a1a" stroke="#1a1a1a" stroke-width="0.15">55</text>
<line x1="113.10" y1="21.80" x2="113.10" y2="32.70" stroke="#1a1a1a" stroke-width="0.65"/>
<path d="M127.60,25.75L131.60,25.75L129.60,30.05Z" fill="#8778B3"/>
<line x1="141.10" y1="21.80" x2="141.10" y2="32.70" stroke="#1a1a1a" stroke-width="0.65"/>
<g transform="translate(142.80,23.20)" fill="none" stroke="#1a1a1a" stroke-width="0.8" stroke-linecap="round" stroke-linejoin="round"><path d="M1.8,1.4C1.9,0.4 2.8,0.4 4,0.5C6,0.7 7.6,0.6 8.6,0.2"/><path d="M5.4,0.6C4.9,3 4.3,5.1 3.3,6.5C2.6,7.5 0.9,7.9 0.2,6.5" stroke-width="1.0"/><path d="M3.7,3.95L7.2,3.7" stroke-width="0.75"/><path d="M4.5,-2.1L5.55,-3.3L6.6,-2.1" stroke-width="0.6"/></g>
<text x="153.00" y="24.20" font-family="Liberation Serif, serif" font-size="7.4" textLength="18.60" lengthAdjust="spacingAndGlyphs" fill="#1a1a1a" stroke="#1a1a1a" stroke-width="0.18">(2SF)</text>
<text x="151.10" y="32.80" font-family="Liberation Serif, serif" font-size="7.5" textLength="8.0" lengthAdjust="spacingAndGlyphs" fill="#1a1a1a" stroke="#1a1a1a" stroke-width="0.15">55</text>
<line x1="176.00" y1="27.00" x2="182.50" y2="27.00" stroke="#1a1a1a" stroke-width="0.75"/>
<g transform="translate(187.40,23.20)" fill="none" stroke="#1a1a1a" stroke-width="0.8" stroke-linecap="round" stroke-linejoin="round"><path d="M1.8,1.4C1.9,0.4 2.8,0.4 4,0.5C6,0.7 7.6,0.6 8.6,0.2"/><path d="M5.4,0.6C4.9,3 4.3,5.1 3.3,6.5C2.6,7.5 0.9,7.9 0.2,6.5" stroke-width="1.0"/><path d="M3.7,3.95L7.2,3.7" stroke-width="0.75"/><path d="M4.5,-2.1L5.55,-3.3L6.6,-2.1" stroke-width="0.6"/></g>
<text x="197.50" y="24.20" font-family="Liberation Serif, serif" font-size="7.4" textLength="19.50" lengthAdjust="spacingAndGlyphs" fill="#1a1a1a" stroke="#1a1a1a" stroke-width="0.18">(3PN)</text>
<text x="195.70" y="32.80" font-family="Liberation Serif, serif" font-size="7.5" textLength="8.0" lengthAdjust="spacingAndGlyphs" fill="#1a1a1a" stroke="#1a1a1a" stroke-width="0.15">55</text>
<line x1="220.10" y1="21.80" x2="220.10" y2="32.70" stroke="#1a1a1a" stroke-width="0.65"/>
<path d="M66.20,52.50L68.60,50.10L71.00,52.50L68.60,54.90Z" fill="#8FB032"/>
<line x1="80.00" y1="46.10" x2="80.00" y2="57.00" stroke="#1a1a1a" stroke-width="0.65"/>
<g transform="translate(81.70,47.50)" fill="none" stroke="#1a1a1a" stroke-width="0.8" stroke-linecap="round" stroke-linejoin="round"><path d="M1.8,1.4C1.9,0.4 2.8,0.4 4,0.5C6,0.7 7.6,0.6 8.6,0.2"/><path d="M5.4,0.6C4.9,3 4.3,5.1 3.3,6.5C2.6,7.5 0.9,7.9 0.2,6.5" stroke-width="1.0"/><path d="M3.7,3.95L7.2,3.7" stroke-width="0.75"/><path d="M4.5,-2.1L5.55,-3.3L6.6,-2.1" stroke-width="0.6"/></g>
<text x="91.70" y="48.50" font-family="Liberation Serif, serif" font-size="7.4" textLength="18.60" lengthAdjust="spacingAndGlyphs" fill="#1a1a1a" stroke="#1a1a1a" stroke-width="0.18">(2SF)</text>
<text x="90.00" y="57.10" font-family="Liberation Serif, serif" font-size="7.5" textLength="8.0" lengthAdjust="spacingAndGlyphs" fill="#1a1a1a" stroke="#1a1a1a" stroke-width="0.15">55</text>
<line x1="114.70" y1="51.30" x2="121.50" y2="51.30" stroke="#1a1a1a" stroke-width="0.75"/>
<g transform="translate(125.70,47.50)" fill="none" stroke="#1a1a1a" stroke-width="0.8" stroke-linecap="round" stroke-linejoin="round"><path d="M1.8,1.4C1.9,0.4 2.8,0.4 4,0.5C6,0.7 7.6,0.6 8.6,0.2"/><path d="M5.4,0.6C4.9,3 4.3,5.1 3.3,6.5C2.6,7.5 0.9,7.9 0.2,6.5" stroke-width="1.0"/><path d="M3.7,3.95L7.2,3.7" stroke-width="0.75"/><path d="M4.5,-2.1L5.55,-3.3L6.6,-2.1" stroke-width="0.6"/></g>
<text x="135.70" y="48.50" font-family="Liberation Serif, serif" font-size="7.4" textLength="19.90" lengthAdjust="spacingAndGlyphs" fill="#1a1a1a" stroke="#1a1a1a" stroke-width="0.18">(4PN)</text>
<text x="134.00" y="57.10" font-family="Liberation Serif, serif" font-size="7.5" textLength="8.0" lengthAdjust="spacingAndGlyphs" fill="#1a1a1a" stroke="#1a1a1a" stroke-width="0.15">55</text>
<line x1="158.80" y1="46.10" x2="158.80" y2="57.00" stroke="#1a1a1a" stroke-width="0.65"/>
<path d="M173.00,54.70L177.20,54.70L175.10,50.50Z" fill="#EB6235"/>
<line x1="187.00" y1="46.10" x2="187.00" y2="57.00" stroke="#1a1a1a" stroke-width="0.65"/>
<g transform="translate(188.80,47.50)" fill="none" stroke="#1a1a1a" stroke-width="0.8" stroke-linecap="round" stroke-linejoin="round"><path d="M1.8,1.4C1.9,0.4 2.8,0.4 4,0.5C6,0.7 7.6,0.6 8.6,0.2"/><path d="M5.4,0.6C4.9,3 4.3,5.1 3.3,6.5C2.6,7.5 0.9,7.9 0.2,6.5" stroke-width="1.0"/><path d="M3.7,3.95L7.2,3.7" stroke-width="0.75"/><path d="M4.5,-2.1L5.55,-3.3L6.6,-2.1" stroke-width="0.6"/></g>
<text x="198.80" y="48.50" font-family="Liberation Serif, serif" font-size="7.4" textLength="18.50" lengthAdjust="spacingAndGlyphs" fill="#1a1a1a" stroke="#1a1a1a" stroke-width="0.18">(2SF)</text>
<text x="197.10" y="57.10" font-family="Liberation Serif, serif" font-size="7.5" textLength="8.0" lengthAdjust="spacingAndGlyphs" fill="#1a1a1a" stroke="#1a1a1a" stroke-width="0.15">55</text>
<line x1="222.00" y1="51.30" x2="229.00" y2="51.30" stroke="#1a1a1a" stroke-width="0.75"/>
<g transform="translate(233.00,47.50)" fill="none" stroke="#1a1a1a" stroke-width="0.8" stroke-linecap="round" stroke-linejoin="round"><path d="M1.8,1.4C1.9,0.4 2.8,0.4 4,0.5C6,0.7 7.6,0.6 8.6,0.2"/><path d="M5.4,0.6C4.9,3 4.3,5.1 3.3,6.5C2.6,7.5 0.9,7.9 0.2,6.5" stroke-width="1.0"/><path d="M3.7,3.95L7.2,3.7" stroke-width="0.75"/><path d="M4.5,-2.1L5.55,-3.3L6.6,-2.1" stroke-width="0.6"/></g>
<text x="243.00" y="48.50" font-family="Liberation Serif, serif" font-size="7.4" textLength="26.00" lengthAdjust="spacingAndGlyphs" fill="#1a1a1a" stroke="#1a1a1a" stroke-width="0.18">(4.5PN)</text>
<text x="241.30" y="57.10" font-family="Liberation Serif, serif" font-size="7.5" textLength="8.0" lengthAdjust="spacingAndGlyphs" fill="#1a1a1a" stroke="#1a1a1a" stroke-width="0.15">55</text>
<line x1="272.20" y1="46.10" x2="272.20" y2="57.00" stroke="#1a1a1a" stroke-width="0.65"/>
<line x1="142.3" y1="296" x2="155.8" y2="296" stroke="#5E81B5" stroke-width="1.1"/>
<line x1="163.80" y1="289.60" x2="163.80" y2="300.50" stroke="#1a1a1a" stroke-width="0.65"/>
<g transform="translate(165.50,291.00)" fill="none" stroke="#1a1a1a" stroke-width="0.8" stroke-linecap="round" stroke-linejoin="round"><path d="M1.8,1.4C1.9,0.4 2.8,0.4 4,0.5C6,0.7 7.6,0.6 8.6,0.2"/><path d="M5.4,0.6C4.9,3 4.3,5.1 3.3,6.5C2.6,7.5 0.9,7.9 0.2,6.5" stroke-width="1.0"/><path d="M3.7,3.95L7.2,3.7" stroke-width="0.75"/><path d="M4.5,-2.1L5.55,-3.3L6.6,-2.1" stroke-width="0.6"/></g>
<text x="175.50" y="292.00" font-family="Liberation Serif, serif" font-size="7.4" textLength="19.80" lengthAdjust="spacingAndGlyphs" fill="#1a1a1a" stroke="#1a1a1a" stroke-width="0.18">(3PN)</text>
<text x="173.80" y="300.60" font-family="Liberation Serif, serif" font-size="7.5" textLength="8.0" lengthAdjust="spacingAndGlyphs" fill="#1a1a1a" stroke="#1a1a1a" stroke-width="0.15">55</text>
<line x1="198.40" y1="289.60" x2="198.40" y2="300.50" stroke="#1a1a1a" stroke-width="0.65"/>
<line x1="257" y1="296.2" x2="270.7" y2="296.2" stroke="#8FB032" stroke-width="1.2"/>
<line x1="279.20" y1="289.60" x2="279.20" y2="300.50" stroke="#1a1a1a" stroke-width="0.65"/>
<g transform="translate(281.00,291.00)" fill="none" stroke="#1a1a1a" stroke-width="0.8" stroke-linecap="round" stroke-linejoin="round"><path d="M1.8,1.4C1.9,0.4 2.8,0.4 4,0.5C6,0.7 7.6,0.6 8.6,0.2"/><path d="M5.4,0.6C4.9,3 4.3,5.1 3.3,6.5C2.6,7.5 0.9,7.9 0.2,6.5" stroke-width="1.0"/><path d="M3.7,3.95L7.2,3.7" stroke-width="0.75"/><path d="M4.5,-2.1L5.55,-3.3L6.6,-2.1" stroke-width="0.6"/></g>
<text x="291.00" y="292.00" font-family="Liberation Serif, serif" font-size="7.4" textLength="27.80" lengthAdjust="spacingAndGlyphs" fill="#1a1a1a" stroke="#1a1a1a" stroke-width="0.18">(4.5PN)</text>
<text x="289.30" y="300.60" font-family="Liberation Serif, serif" font-size="7.5" textLength="8.0" lengthAdjust="spacingAndGlyphs" fill="#1a1a1a" stroke="#1a1a1a" stroke-width="0.15">55</text>
<line x1="323.20" y1="294.80" x2="329.50" y2="294.80" stroke="#1a1a1a" stroke-width="0.75"/>
<g transform="translate(333.20,291.00)" fill="none" stroke="#1a1a1a" stroke-width="0.8" stroke-linecap="round" stroke-linejoin="round"><path d="M1.8,1.4C1.9,0.4 2.8,0.4 4,0.5C6,0.7 7.6,0.6 8.6,0.2"/><path d="M5.4,0.6C4.9,3 4.3,5.1 3.3,6.5C2.6,7.5 0.9,7.9 0.2,6.5" stroke-width="1.0"/><path d="M3.7,3.95L7.2,3.7" stroke-width="0.75"/><path d="M4.5,-2.1L5.55,-3.3L6.6,-2.1" stroke-width="0.6"/></g>
<text x="343.20" y="292.00" font-family="Liberation Serif, serif" font-size="7.4" textLength="19.60" lengthAdjust="spacingAndGlyphs" fill="#1a1a1a" stroke="#1a1a1a" stroke-width="0.18">(4PN)</text>
<text x="341.50" y="300.60" font-family="Liberation Serif, serif" font-size="7.5" textLength="8.0" lengthAdjust="spacingAndGlyphs" fill="#1a1a1a" stroke="#1a1a1a" stroke-width="0.15">55</text>
<line x1="365.90" y1="289.60" x2="365.90" y2="300.50" stroke="#1a1a1a" stroke-width="0.65"/>
<line x1="142.3" y1="325" x2="155.8" y2="325" stroke="#8778B3" stroke-width="1.1"/>
<line x1="163.80" y1="319.00" x2="163.80" y2="329.90" stroke="#1a1a1a" stroke-width="0.65"/>
<g transform="translate(165.50,320.40)" fill="none" stroke="#1a1a1a" stroke-width="0.8" stroke-linecap="round" stroke-linejoin="round"><path d="M1.8,1.4C1.9,0.4 2.8,0.4 4,0.5C6,0.7 7.6,0.6 8.6,0.2"/><path d="M5.4,0.6C4.9,3 4.3,5.1 3.3,6.5C2.6,7.5 0.9,7.9 0.2,6.5" stroke-width="1.0"/><path d="M3.7,3.95L7.2,3.7" stroke-width="0.75"/><path d="M4.5,-2.1L5.55,-3.3L6.6,-2.1" stroke-width="0.6"/></g>
<text x="175.50" y="321.40" font-family="Liberation Serif, serif" font-size="7.4" textLength="26.60" lengthAdjust="spacingAndGlyphs" fill="#1a1a1a" stroke="#1a1a1a" stroke-width="0.18">(3.5PN)</text>
<text x="173.80" y="330.00" font-family="Liberation Serif, serif" font-size="7.5" textLength="8.0" lengthAdjust="spacingAndGlyphs" fill="#1a1a1a" stroke="#1a1a1a" stroke-width="0.15">55</text>
<line x1="207.50" y1="324.20" x2="213.80" y2="324.20" stroke="#1a1a1a" stroke-width="0.75"/>
<g transform="translate(218.00,320.40)" fill="none" stroke="#1a1a1a" stroke-width="0.8" stroke-linecap="round" stroke-linejoin="round"><path d="M1.8,1.4C1.9,0.4 2.8,0.4 4,0.5C6,0.7 7.6,0.6 8.6,0.2"/><path d="M5.4,0.6C4.9,3 4.3,5.1 3.3,6.5C2.6,7.5 0.9,7.9 0.2,6.5" stroke-width="1.0"/><path d="M3.7,3.95L7.2,3.7" stroke-width="0.75"/><path d="M4.5,-2.1L5.55,-3.3L6.6,-2.1" stroke-width="0.6"/></g>
<text x="228.00" y="321.40" font-family="Liberation Serif, serif" font-size="7.4" textLength="18.80" lengthAdjust="spacingAndGlyphs" fill="#1a1a1a" stroke="#1a1a1a" stroke-width="0.18">(3PN)</text>
<text x="226.30" y="330.00" font-family="Liberation Serif, serif" font-size="7.5" textLength="8.0" lengthAdjust="spacingAndGlyphs" fill="#1a1a1a" stroke="#1a1a1a" stroke-width="0.15">55</text>
<line x1="250.70" y1="319.00" x2="250.70" y2="329.90" stroke="#1a1a1a" stroke-width="0.65"/>
<line x1="257.8" y1="322.7" x2="271" y2="322.7" stroke="#EB6235" stroke-width="1.0" stroke-dasharray="1.6 1.3"/>
<text x="278.0" y="325.8" font-family="Liberation Serif, serif" font-size="11.8" font-style="italic" fill="#1a1a1a">x</text>
<text x="284.6" y="321.7" font-family="Liberation Serif, serif" font-size="7.4" fill="#1a1a1a" stroke="#1a1a1a" stroke-width="0.15">5</text>
<text x="292.5" y="325.8" font-family="Liberation Serif, serif" font-size="12" textLength="41.8" lengthAdjust="spacingAndGlyphs" fill="#1a1a1a" stroke="#1a1a1a" stroke-width="0.12">reference</text>
<text x="44.2" y="340.3" font-family="Liberation Serif, serif" font-size="12.4" fill="#1a1a1a" stroke="#1a1a1a" stroke-width="0.12" >(</text>
<path transform="translate(48.6,332.4)" d="M0.1,5.8C2.4,4.5 4.0,1.4 3.0,0.4C2.1,-0.4 1.3,1.6 1.3,4.3C1.3,7.1 2.4,7.9 4.0,6.3" fill="none" stroke="#1a1a1a" stroke-width="0.85" stroke-linecap="round"/>
<text x="52.8" y="340.1" font-family="Liberation Serif, serif" font-size="10.9" fill="#1a1a1a" stroke="#1a1a1a" stroke-width="0.12" >,</text>
<text x="58.3" y="340.1" font-family="Liberation Serif, serif" font-size="11.6" fill="#1a1a1a" font-style="italic" textLength="9.3" lengthAdjust="spacingAndGlyphs">m</text>
<text x="68.5" y="340.3" font-family="Liberation Serif, serif" font-size="12.4" fill="#1a1a1a" stroke="#1a1a1a" stroke-width="0.12" >)</text>
<path d="M76,336.5H84M76,338.8H84" stroke="#1a1a1a" stroke-width="0.65" fill="none"/>
<text x="87.6" y="340.3" font-family="Liberation Serif, serif" font-size="12.4" fill="#1a1a1a" stroke="#1a1a1a" stroke-width="0.12" >(</text>
<text x="91.3" y="340.1" font-family="Liberation Serif, serif" font-size="10.9" fill="#1a1a1a" stroke="#1a1a1a" stroke-width="0.12" >5</text>
<text x="97.5" y="340.1" font-family="Liberation Serif, serif" font-size="10.9" fill="#1a1a1a" stroke="#1a1a1a" stroke-width="0.12" >,</text>
<text x="102.6" y="340.1" font-family="Liberation Serif, serif" font-size="10.9" fill="#1a1a1a" stroke="#1a1a1a" stroke-width="0.12" >5</text>
<text x="108.1" y="340.3" font-family="Liberation Serif, serif" font-size="12.4" fill="#1a1a1a" stroke="#1a1a1a" stroke-width="0.12" >)</text>
</g></svg></body></html>
